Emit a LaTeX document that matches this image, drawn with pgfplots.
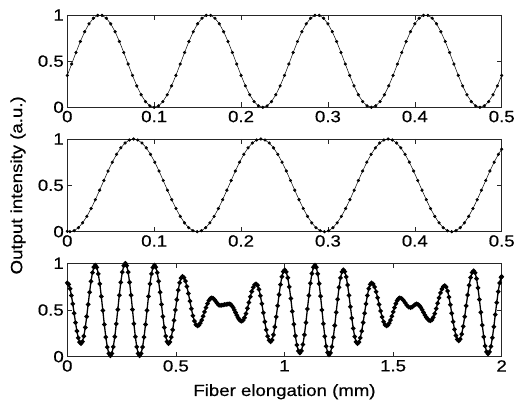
\documentclass[border=0pt]{standalone}
\usepackage{fontspec}
\setmainfont{Liberation Sans}[FakeStretch=1.15, FakeBold=0.5]
\usepackage{pgfplots}
\usepackage{pgfplotstable}
\pgfplotsset{compat=1.18}

% panel 1: 0 - 0.5 mm
\pgfplotstableread{
x y
0.000 0.3455
0.005 0.4686
0.010 0.5937
0.015 0.7129
0.020 0.8187
0.025 0.9045
0.030 0.9649
0.035 0.9961
0.040 0.9961
0.045 0.9649
0.050 0.9045
0.055 0.8187
0.060 0.7129
0.065 0.5937
0.070 0.4686
0.075 0.3455
0.080 0.2321
0.085 0.1355
0.090 0.0618
0.095 0.0157
0.100 0.0000
0.105 0.0157
0.110 0.0618
0.115 0.1355
0.120 0.2321
0.125 0.3455
0.130 0.4686
0.135 0.5937
0.140 0.7129
0.145 0.8187
0.150 0.9045
0.155 0.9649
0.160 0.9961
0.165 0.9961
0.170 0.9649
0.175 0.9045
0.180 0.8187
0.185 0.7129
0.190 0.5937
0.195 0.4686
0.200 0.3455
0.205 0.2321
0.210 0.1355
0.215 0.0618
0.220 0.0157
0.225 0.0000
0.230 0.0157
0.235 0.0618
0.240 0.1355
0.245 0.2321
0.250 0.3455
0.255 0.4686
0.260 0.5937
0.265 0.7129
0.270 0.8187
0.275 0.9045
0.280 0.9649
0.285 0.9961
0.290 0.9961
0.295 0.9649
0.300 0.9045
0.305 0.8187
0.310 0.7129
0.315 0.5937
0.320 0.4686
0.325 0.3455
0.330 0.2321
0.335 0.1355
0.340 0.0618
0.345 0.0157
0.350 0.0000
0.355 0.0157
0.360 0.0618
0.365 0.1355
0.370 0.2321
0.375 0.3455
0.380 0.4686
0.385 0.5937
0.390 0.7129
0.395 0.8187
0.400 0.9045
0.405 0.9649
0.410 0.9961
0.415 0.9961
0.420 0.9649
0.425 0.9045
0.430 0.8187
0.435 0.7129
0.440 0.5937
0.445 0.4686
0.450 0.3455
0.455 0.2321
0.460 0.1355
0.465 0.0618
0.470 0.0157
0.475 0.0000
0.480 0.0157
0.485 0.0618
0.490 0.1355
0.495 0.2321
0.500 0.3455
}\dataA

% panel 2: 0 - 0.5 mm
\pgfplotstableread{
x y
0.0000 0.0042
0.0030 0.0000
0.0079 0.0109
0.0128 0.0432
0.0176 0.0955
0.0225 0.1654
0.0274 0.2500
0.0323 0.3455
0.0372 0.4477
0.0421 0.5523
0.0469 0.6545
0.0518 0.7500
0.0567 0.8346
0.0616 0.9045
0.0665 0.9568
0.0714 0.9891
0.0763 1.0000
0.0811 0.9891
0.0860 0.9568
0.0909 0.9045
0.0958 0.8346
0.1007 0.7500
0.1056 0.6545
0.1104 0.5523
0.1153 0.4477
0.1202 0.3455
0.1251 0.2500
0.1300 0.1654
0.1349 0.0955
0.1397 0.0432
0.1446 0.0109
0.1495 0.0000
0.1544 0.0109
0.1593 0.0432
0.1641 0.0955
0.1690 0.1654
0.1739 0.2500
0.1788 0.3455
0.1837 0.4477
0.1886 0.5523
0.1934 0.6545
0.1983 0.7500
0.2032 0.8346
0.2081 0.9045
0.2130 0.9568
0.2179 0.9891
0.2228 1.0000
0.2276 0.9891
0.2325 0.9568
0.2374 0.9045
0.2423 0.8346
0.2472 0.7500
0.2521 0.6545
0.2569 0.5523
0.2618 0.4477
0.2667 0.3455
0.2716 0.2500
0.2765 0.1654
0.2814 0.0955
0.2862 0.0432
0.2911 0.0109
0.2960 0.0000
0.3009 0.0109
0.3058 0.0432
0.3106 0.0955
0.3155 0.1654
0.3204 0.2500
0.3253 0.3455
0.3302 0.4477
0.3351 0.5523
0.3399 0.6545
0.3448 0.7500
0.3497 0.8346
0.3546 0.9045
0.3595 0.9568
0.3644 0.9891
0.3693 1.0000
0.3741 0.9891
0.3790 0.9568
0.3839 0.9045
0.3888 0.8346
0.3937 0.7500
0.3986 0.6545
0.4034 0.5523
0.4083 0.4477
0.4132 0.3455
0.4181 0.2500
0.4230 0.1654
0.4279 0.0955
0.4327 0.0432
0.4376 0.0109
0.4425 0.0000
0.4474 0.0109
0.4523 0.0432
0.4571 0.0955
0.4620 0.1654
0.4669 0.2500
0.4718 0.3455
0.4767 0.4477
0.4816 0.5523
0.4864 0.6545
0.4913 0.7500
0.4962 0.8346
0.5000 0.8902
}\dataB

% panel 3: 0 - 2 mm
\pgfplotstableread{
x y
0.0000 0.790
0.0063 0.774
0.0126 0.728
0.0189 0.656
0.0252 0.565
0.0315 0.465
0.0378 0.365
0.0441 0.274
0.0504 0.202
0.0567 0.156
0.0630 0.140
0.0696 0.161
0.0762 0.220
0.0828 0.313
0.0894 0.430
0.0960 0.560
0.1026 0.690
0.1092 0.807
0.1158 0.900
0.1224 0.959
0.1290 0.980
0.1359 0.956
0.1428 0.887
0.1497 0.780
0.1566 0.645
0.1635 0.495
0.1704 0.345
0.1773 0.210
0.1842 0.103
0.1911 0.034
0.1980 0.010
0.2049 0.034
0.2118 0.105
0.2187 0.214
0.2256 0.352
0.2325 0.505
0.2394 0.658
0.2463 0.796
0.2532 0.905
0.2601 0.976
0.2670 1.000
0.2736 0.976
0.2802 0.905
0.2868 0.796
0.2934 0.658
0.3000 0.505
0.3066 0.352
0.3132 0.214
0.3198 0.105
0.3264 0.034
0.3330 0.010
0.3398 0.034
0.3466 0.103
0.3534 0.210
0.3602 0.345
0.3670 0.495
0.3738 0.645
0.3806 0.780
0.3874 0.887
0.3942 0.956
0.4010 0.980
0.4075 0.959
0.4140 0.900
0.4205 0.807
0.4270 0.690
0.4335 0.560
0.4400 0.430
0.4465 0.313
0.4530 0.220
0.4595 0.161
0.4660 0.140
0.4724 0.158
0.4788 0.209
0.4852 0.288
0.4916 0.389
0.4980 0.500
0.5044 0.611
0.5108 0.712
0.5172 0.791
0.5236 0.842
0.5300 0.860
0.5369 0.847
0.5438 0.809
0.5507 0.751
0.5576 0.677
0.5645 0.595
0.5714 0.513
0.5783 0.439
0.5852 0.381
0.5921 0.343
0.5990 0.330
0.6056 0.337
0.6122 0.359
0.6188 0.392
0.6254 0.434
0.6320 0.480
0.6386 0.526
0.6452 0.568
0.6518 0.601
0.6584 0.623
0.6650 0.630
0.6713 0.625
0.6777 0.610
0.6840 0.590
0.6903 0.570
0.6967 0.555
0.7030 0.550
0.7102 0.551
0.7173 0.554
0.7245 0.558
0.7317 0.561
0.7388 0.564
0.7460 0.565
0.7517 0.561
0.7574 0.547
0.7631 0.527
0.7688 0.501
0.7745 0.473
0.7802 0.444
0.7859 0.418
0.7916 0.398
0.7973 0.385
0.8030 0.380
0.8096 0.390
0.8162 0.418
0.8228 0.462
0.8294 0.518
0.8360 0.580
0.8426 0.642
0.8492 0.698
0.8558 0.742
0.8624 0.770
0.8690 0.780
0.8757 0.765
0.8824 0.721
0.8891 0.652
0.8958 0.566
0.9025 0.470
0.9092 0.374
0.9159 0.288
0.9226 0.219
0.9293 0.175
0.9360 0.160
0.9425 0.179
0.9490 0.234
0.9555 0.319
0.9620 0.426
0.9685 0.545
0.9750 0.664
0.9815 0.771
0.9880 0.857
0.9945 0.911
1.0010 0.930
1.0080 0.908
1.0150 0.845
1.0220 0.747
1.0290 0.623
1.0360 0.485
1.0430 0.348
1.0500 0.223
1.0570 0.125
1.0640 0.062
1.0710 0.040
1.0779 0.063
1.0848 0.130
1.0917 0.234
1.0986 0.365
1.1055 0.510
1.1124 0.655
1.1193 0.786
1.1262 0.890
1.1331 0.957
1.1400 0.980
1.1465 0.957
1.1530 0.888
1.1595 0.782
1.1660 0.648
1.1725 0.500
1.1790 0.352
1.1855 0.218
1.1920 0.112
1.1985 0.044
1.2050 0.020
1.2116 0.042
1.2182 0.107
1.2248 0.208
1.2314 0.334
1.2380 0.475
1.2446 0.616
1.2512 0.742
1.2578 0.843
1.2644 0.908
1.2710 0.930
1.2775 0.911
1.2840 0.855
1.2905 0.767
1.2970 0.657
1.3035 0.535
1.3100 0.413
1.3165 0.303
1.3230 0.215
1.3295 0.159
1.3360 0.140
1.3425 0.156
1.3490 0.202
1.3555 0.274
1.3620 0.365
1.3685 0.465
1.3750 0.565
1.3815 0.656
1.3880 0.728
1.3945 0.774
1.4010 0.790
1.4079 0.779
1.4148 0.746
1.4217 0.695
1.4286 0.631
1.4355 0.560
1.4424 0.489
1.4493 0.425
1.4562 0.374
1.4631 0.341
1.4700 0.330
1.4761 0.337
1.4822 0.359
1.4883 0.392
1.4944 0.434
1.5005 0.480
1.5066 0.526
1.5127 0.568
1.5188 0.601
1.5249 0.623
1.5310 0.630
1.5392 0.623
1.5473 0.604
1.5555 0.578
1.5637 0.551
1.5718 0.532
1.5800 0.525
1.5870 0.531
1.5940 0.545
1.6010 0.559
1.6080 0.565
1.6144 0.561
1.6208 0.548
1.6272 0.528
1.6336 0.503
1.6400 0.475
1.6464 0.447
1.6528 0.422
1.6592 0.402
1.6656 0.389
1.6720 0.385
1.6786 0.394
1.6852 0.421
1.6918 0.462
1.6984 0.515
1.7050 0.573
1.7116 0.630
1.7182 0.683
1.7248 0.724
1.7314 0.751
1.7380 0.760
1.7444 0.746
1.7508 0.704
1.7572 0.638
1.7636 0.556
1.7700 0.465
1.7764 0.374
1.7828 0.292
1.7892 0.226
1.7956 0.185
1.8020 0.170
1.8089 0.188
1.8158 0.242
1.8227 0.325
1.8296 0.429
1.8365 0.545
1.8434 0.661
1.8503 0.765
1.8572 0.848
1.8641 0.902
1.8710 0.920
1.8776 0.898
1.8842 0.835
1.8908 0.737
1.8974 0.613
1.9040 0.475
1.9106 0.338
1.9172 0.213
1.9238 0.115
1.9304 0.052
1.9370 0.030
1.9437 0.051
1.9504 0.110
1.9571 0.203
1.9638 0.320
1.9705 0.450
1.9772 0.580
1.9839 0.697
1.9906 0.790
1.9973 0.849
2.0000 0.858
}\dataC

\pgfplotsset{
  panel/.style={
    scale only axis,
    width=434.4pt,
    xmin=0, xmax=0.5, ymin=0, ymax=1,
    ytick={0,0.5,1}, yticklabels={0,0.5,1},
    xtick={0,0.1,0.2,0.3,0.4,0.5}, xticklabels={0,0.1,0.2,0.3,0.4,0.5},
    tick align=inside,
    major tick length=5pt,
    axis line style={black!85, line width=0.6pt},
    tick style={black!85, line width=0.6pt},
    tick label style={font=\fontsize{16.2}{19}\selectfont},
    label style={font=\fontsize{16.2}{19}\selectfont},
    clip=false,
    anchor=south west,
  },
}

\begin{document}
\begin{tikzpicture}
\begin{axis}[panel, at={(67.3pt,299.7pt)}, height=92.3pt]
\addplot[black, line width=0.5pt, mark=*, mark size=1.35pt] table {\dataA};
\end{axis}

\begin{axis}[panel, at={(67.3pt,175.3pt)}, height=92.7pt,
  ylabel={Output intensity (a.u.)},
  ylabel style={at={(rel axis cs:-0.088,0.5)}, anchor=south}]
\addplot[black, line width=0.5pt, mark=*, mark size=1.35pt] table {\dataB};
\end{axis}

\begin{axis}[panel, at={(67.3pt,50.3pt)}, height=93.4pt,
  xmax=2,
  xtick={0,0.5,1,1.5,2}, xticklabels={0,0.5,1,1.5,2},
  xlabel={Fiber elongation (mm)},
  xlabel style={at={(rel axis cs:0.5,0)}, anchor=north, yshift=-24pt}]
\addplot[black, line width=1.3pt, mark=*, mark size=1.6pt] table {\dataC};
\end{axis}

\pgfresetboundingbox
\useasboundingbox (0,0) rectangle (515pt,407pt);
\end{tikzpicture}
\end{document}
